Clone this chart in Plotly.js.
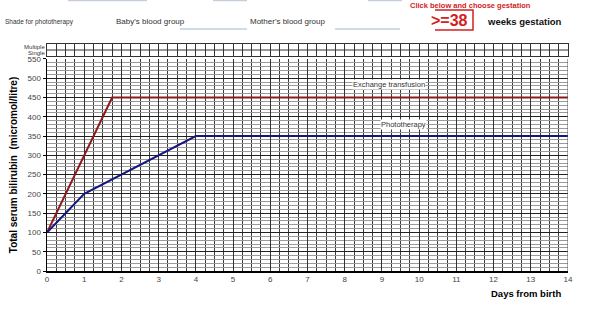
<!DOCTYPE html>
<html><head><meta charset="utf-8">
<script src="https://cdn.plot.ly/plotly-3.0.1.min.js"></script>
<style>html,body{margin:0;padding:0;background:#fff}#c{width:600px;height:322px}</style>
</head><body><div id="c"></div>
<script>
const exchangeDays = [0, 1.75, 14];
const exchangeValues = [100, 450, 450];
const photoDays = [0, 1, 4, 14];
const photoValues = [100, 200, 350, 350];
const stripRows = ["Single", "Multiple"];
const xTicks = [0,1,2,3,4,5,6,7,8,9,10,11,12,13,14];
const yTicks = [0,50,100,150,200,250,300,350,400,450,500,550];

const traces = [
  {x: exchangeDays, y: exchangeValues, mode: 'lines', line: {color: '#8c1a1a', width: 2}, xaxis: 'x', yaxis: 'y', hoverinfo: 'skip'},
  {x: photoDays, y: photoValues, mode: 'lines', line: {color: '#16167f', width: 2}, xaxis: 'x', yaxis: 'y', hoverinfo: 'skip'}
];

const tickFont = {family: 'Liberation Sans, Arial', size: 8, color: '#444'};
const layout = {
  width: 600, height: 322,
  margin: {l: 47, r: 32, t: 44, b: 51},
  paper_bgcolor: '#fff', plot_bgcolor: '#fff',
  showlegend: false,
  xaxis: {
    range: [0, 14], tickvals: xTicks, ticktext: xTicks.map(String),
    showgrid: true, gridcolor: '#333', gridwidth: 1,
    minor: {dtick: 0.25, showgrid: true, gridcolor: '#3a3a3a', gridwidth: 1},
    showline: true, linecolor: '#000', linewidth: 1.5, mirror: false,
    ticks: '', tickfont: tickFont, zeroline: false, anchor: 'y', fixedrange: true
  },
  yaxis: {
    domain: [0, 0.934], range: [0, 550], tickvals: yTicks, ticktext: yTicks.map(String),
    showgrid: true, gridcolor: '#222', gridwidth: 1,
    minor: {dtick: 10, showgrid: true, gridcolor: '#9a9a9a', gridwidth: 1},
    showline: true, linecolor: '#000', linewidth: 1.5,
    ticks: 'outside', ticklen: 3, tickcolor: '#000', tickfont: tickFont, zeroline: false,
    title: {text: 'Total serum bilirubin  (micromol/litre)', font: {family: 'Liberation Sans, Arial', size: 10, color: '#000', weight: 'bold'}, standoff: 8},
    fixedrange: true
  },
  xaxis2: {
    matches: 'x', anchor: 'y2', showticklabels: false, ticks: '',
    showgrid: true, gridcolor: '#333', gridwidth: 1,
    minor: {dtick: 0.25, showgrid: true, gridcolor: '#333', gridwidth: 1},
    showline: true, linecolor: '#333', mirror: true, zeroline: false
  },
  yaxis2: {
    domain: [0.947, 1], range: [0, 2], tickvals: [0.5, 1.5], ticktext: stripRows,
    showgrid: false, zeroline: false, showline: true, linecolor: '#333', mirror: true,
    tickfont: {family: 'Liberation Sans, Arial', size: 6, color: '#333'}, ticks: ''
  },
  shapes: [
    {type: 'line', xref: 'x2', yref: 'y2', x0: 0, x1: 14, y0: 1, y1: 1, line: {color: '#333', width: 1}},
    {type: 'line', xref: 'x', yref: 'y domain', x0: 14, x1: 14, y0: 0, y1: 1, line: {color: '#555', width: 1}},
    {type: 'line', xref: 'paper', yref: 'paper', x0: (180-47)/521, x1: (247-47)/521, y0: (322-51-29)/227, y1: (322-51-29)/227, line: {color: '#9ab7d6', width: 1}},
    {type: 'line', xref: 'paper', yref: 'paper', x0: (335-47)/521, x1: (400-47)/521, y0: (322-51-29)/227, y1: (322-51-29)/227, line: {color: '#9ab7d6', width: 1}},
    {type: 'line', xref: 'paper', yref: 'paper', x0: (68-47)/521, x1: (147-47)/521, y0: (322-51-0.5)/227, y1: (322-51-0.5)/227, line: {color: '#c5cfdb', width: 1.5}},
    {type: 'line', xref: 'paper', yref: 'paper', x0: (213-47)/521, x1: (247-47)/521, y0: (322-51-0.5)/227, y1: (322-51-0.5)/227, line: {color: '#c5cfdb', width: 1.5}},
    {type: 'line', xref: 'paper', yref: 'paper', x0: (368-47)/521, x1: (402-47)/521, y0: (322-51-0.5)/227, y1: (322-51-0.5)/227, line: {color: '#c5cfdb', width: 1.5}},
    {type: 'path', xref: 'paper', yref: 'paper',
     path: 'M ' + ((435-47)/521) + ' ' + ((322-51-10)/227) + ' L ' + ((473-47)/521) + ' ' + ((322-51-10)/227) + ' L ' + ((473-47)/521) + ' ' + ((322-51-30)/227) + ' L ' + ((435-47)/521) + ' ' + ((322-51-30)/227),
     line: {color: '#d42020', width: 1.5}}
  ],
  annotations: [
    {xref: 'x', yref: 'y', x: 9.2, y: 485, text: 'Exchange transfusion', showarrow: false, bgcolor: '#fff', borderpad: 0, font: {family: 'Liberation Sans, Arial', size: 7.5, color: '#333'}},
    {xref: 'x', yref: 'y', x: 9.57, y: 379, text: 'Phototherapy', showarrow: false, bgcolor: '#fff', borderpad: 0, font: {family: 'Liberation Sans, Arial', size: 7.5, color: '#333'}},
    {xref: 'paper', yref: 'paper', x: (568-47)/521 - 0.01, xanchor: 'right', y: (322-51-293)/227, yanchor: 'middle', text: '<b>Days from birth</b>', showarrow: false, font: {family: 'Liberation Sans, Arial', size: 9.5, color: '#000'}},
    {xref: 'paper', yref: 'paper', x: (3-47)/521, xanchor: 'left', y: (322-51-22)/227, yanchor: 'middle', text: 'Shade for phototherapy', showarrow: false, font: {family: 'Liberation Sans, Arial', size: 6.5, color: '#333'}},
    {xref: 'paper', yref: 'paper', x: (114-47)/521, xanchor: 'left', y: (322-51-21)/227, yanchor: 'middle', text: "Baby's blood group", showarrow: false, font: {family: 'Liberation Sans, Arial', size: 8, color: '#333'}},
    {xref: 'paper', yref: 'paper', x: (248-47)/521, xanchor: 'left', y: (322-51-21)/227, yanchor: 'middle', text: "Mother's blood group", showarrow: false, font: {family: 'Liberation Sans, Arial', size: 8, color: '#333'}},
    {xref: 'paper', yref: 'paper', x: (470-47)/521, xanchor: 'center', y: (322-51-5)/227, yanchor: 'middle', text: '<b>Click below and choose gestation</b>', showarrow: false, font: {family: 'Liberation Sans, Arial', size: 7.5, color: '#d42020'}},
    {xref: 'paper', yref: 'paper', x: (449-47)/521, xanchor: 'center', y: (322-51-20)/227, yanchor: 'middle', text: '<b>&gt;=38</b>', showarrow: false, font: {family: 'Liberation Sans, Arial', size: 16, color: '#d42020'}},
    {xref: 'paper', yref: 'paper', x: (485-47)/521, xanchor: 'left', y: (322-51-21)/227, yanchor: 'middle', text: '<b>weeks gestation</b>', showarrow: false, font: {family: 'Liberation Sans, Arial', size: 9.5, color: '#111'}}
  ]
};
Plotly.newPlot('c', traces, layout, {staticPlot: true, displayModeBar: false});
</script></body></html>
